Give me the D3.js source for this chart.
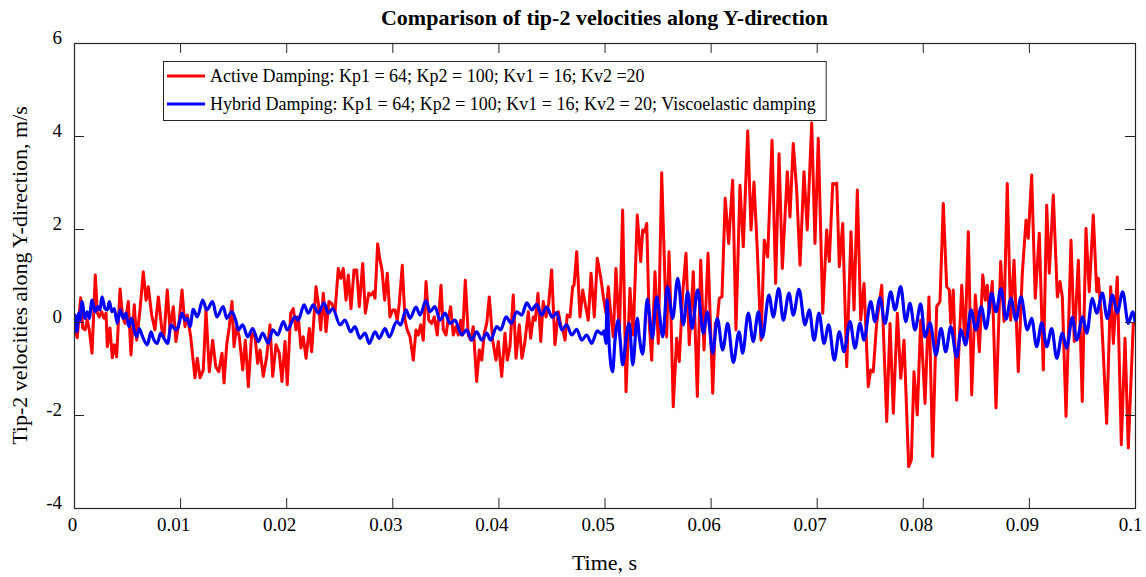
<!DOCTYPE html>
<html>
<head>
<meta charset="utf-8">
<script src="https://cdn.jsdelivr.net/npm/d3@7"></script>
<style>
  html, body { margin: 0; padding: 0; background: #ffffff; }
  svg { display: block; font-family: "Liberation Serif", "Times New Roman", serif; }
</style>
</head>
<body>
<svg id="chart" width="1146" height="577"></svg>
<script>
// Tip-2 velocity along Y, active vs hybrid damping. Samples: [time (ms), velocity (m/s)]
const activeDamping = [
  [0,0.04],[0.09,-0.17],[0.31,-0.34],[0.63,0.52],[0.82,-0.13],[1.04,-0.17],[1.25,0.04],[1.44,-0.17],[1.70,-0.67],[2.01,1.01],
  [2.20,0.19],[2.38,0.11],[2.61,0.22],[2.83,0.08],[3.02,0.19],[3.14,-0.53],[3.39,-0.13],[3.61,-0.77],[3.80,-0.49],[4.02,-0.75],
  [4.34,0.71],[4.59,0.11],[4.81,-0.03],[5.12,0.44],[5.37,-0.71],[5.68,0.37],[5.91,-0.39],[6.22,0.26],[6.53,1.08],[6.79,0.47],
  [7.00,0.76],[7.32,0.15],[7.63,-0.17],[7.95,0.54],[8.27,-0.14],[8.48,-0.32],[8.79,0.69],[9.05,-0.17],[9.36,0.33],[9.61,-0.42],
  [9.92,0.04],[10.18,0.69],[10.46,-0.10],[10.68,0.15],[11.00,-0.32],[11.40,-1.20],[11.62,-0.78],[11.88,-1.20],[12.19,-1.03],[12.44,0.26],
  [12.75,-1.07],[13.07,-0.39],[13.36,-0.96],[13.64,-1.07],[13.95,-0.67],[14.14,-1.31],[14.39,-0.49],[14.64,-0.10],[14.89,0.44],[15.08,-0.53],
  [15.33,-0.10],[15.58,-0.32],[15.90,-1.03],[16.15,-0.39],[16.43,-1.39],[16.75,-0.24],[17.06,-0.32],[17.31,-0.89],[17.53,-0.60],[17.84,-1.17],
  [18.16,-0.75],[18.47,-0.06],[18.73,-1.17],[19.04,-0.49],[19.35,-0.67],[19.60,-1.28],[19.89,-0.42],[20.10,-1.35],[20.42,0.19],[20.67,0.29],
  [20.92,-0.17],[21.14,0.11],[21.39,-0.56],[21.61,-0.32],[21.87,-0.78],[22.18,-0.14],[22.40,-0.64],[22.81,0.76],[23.03,0.40],[23.25,-0.17],
  [23.50,0.62],[23.75,-0.21],[24.03,0.44],[24.29,0.40],[24.60,0.22],[24.91,1.15],[25.14,0.94],[25.38,1.15],[25.64,0.47],[25.85,1.01],
  [26.11,0.29],[26.39,1.12],[26.64,1.12],[26.89,0.33],[27.21,1.26],[27.46,0.19],[27.78,0.62],[27.99,0.58],[28.21,0.65],[28.37,0.51],
  [28.62,1.68],[28.84,1.33],[29.03,1.12],[29.28,0.47],[29.53,1.05],[29.78,0.11],[30.04,0.26],[30.25,0.26],[30.47,0.04],[30.66,0.40],
  [30.94,1.22],[31.20,0.04],[31.41,-0.17],[31.67,-0.32],[31.98,-0.82],[32.23,-0.17],[32.45,-0.28],[32.68,-0.06],[32.92,-0.39],[33.18,0.87],
  [33.43,0.04],[33.71,-0.03],[33.96,0.11],[34.24,-0.28],[34.59,0.79],[34.81,-0.17],[35.06,-0.28],[35.28,0.08],[35.50,0.33],[35.75,-0.28],
  [36.00,-0.10],[36.22,-0.28],[36.45,0.04],[36.63,-0.28],[36.88,0.90],[37.16,-0.28],[37.39,-0.39],[37.63,-0.10],[37.95,-1.28],[38.20,-0.60],
  [38.43,-0.82],[38.67,-0.24],[38.90,-0.03],[39.14,0.54],[39.46,-0.39],[39.77,-0.82],[39.99,-0.42],[40.31,-1.17],[40.62,-0.24],[40.84,-0.82],
  [41.09,-0.53],[41.40,0.58],[41.66,-0.78],[41.97,-0.06],[42.22,-0.78],[42.48,-0.46],[42.82,0.22],[43.04,-0.35],[43.29,0.11],[43.48,0.04],
  [43.73,0.62],[43.99,-0.42],[44.23,0.44],[44.49,0.11],[44.74,0.40],[45.02,1.12],[45.33,-0.49],[45.65,0.22],[45.90,-0.10],[46.12,-0.21],
  [46.28,-0.39],[46.49,0.15],[46.75,0.11],[47.00,0.76],[47.13,0.79],[47.38,1.51],[47.69,0.11],[47.95,0.69],[48.26,0.29],[48.47,0.04],
  [48.73,1.05],[49.04,0.11],[49.32,1.37],[49.64,0.97],[49.89,0.54],[50.14,0.19],[50.36,0.76],[50.58,0.19],[50.83,-0.32],[51.08,1.15],
  [51.40,-0.28],[51.71,2.41],[52.03,-1.50],[52.40,0.72],[52.71,-0.28],[53.09,2.30],[53.41,1.30],[53.60,1.98],[53.79,1.94],[53.98,2.12],
  [54.22,-0.03],[54.45,-0.82],[54.76,1.08],[55.07,-0.46],[55.39,3.21],[55.61,1.55],[55.86,-0.32],[56.08,1.51],[56.27,0.11],[56.48,-1.82],
  [56.80,-0.35],[57.05,-0.85],[57.37,0.62],[57.68,1.48],[57.99,-0.49],[58.37,1.08],[58.75,-1.60],[59.07,1.33],[59.38,-0.60],[59.76,1.48],
  [60.20,-1.53],[60.44,-0.03],[60.63,0.04],[60.82,0.51],[61.07,0.54],[61.38,2.66],[61.70,1.69],[62.08,3.05],[62.39,-0.17],[62.77,2.94],
  [63.08,1.62],[63.50,4.11],[63.81,1.98],[64.09,3.01],[64.40,1.55],[64.75,-0.39],[65.06,1.76],[65.38,1.40],[65.79,3.91],[66.13,0.83],
  [66.45,3.62],[66.76,1.15],[67.23,3.23],[67.48,2.26],[67.79,3.84],[68.11,2.84],[68.43,1.22],[68.80,3.23],[69.11,1.98],[69.53,4.28],
  [69.84,1.69],[70.15,3.95],[70.57,0.19],[70.94,1.98],[71.19,1.30],[71.51,2.98],[71.70,2.96],[71.89,2.99],[72.13,1.19],[72.45,2.12],
  [72.83,-0.96],[73.23,1.94],[73.52,0.26],[73.83,2.84],[74.15,0.04],[74.46,0.83],[74.86,-1.39],[75.09,-1.03],[75.33,-1.07],[75.65,-0.03],
  [76.13,0.79],[76.60,-2.14],[76.91,-0.03],[77.22,-1.96],[77.60,0.19],[77.92,-1.21],[78.23,-0.39],[78.67,-3.11],[78.92,-2.96],[79.17,-1.07],
  [79.48,-2.00],[79.80,0.04],[80.21,-1.75],[80.58,0.54],[80.93,-2.89],[81.31,0.33],[81.62,0.44],[81.93,2.55],[82.25,0.76],[82.50,0.69],
  [82.63,-0.03],[82.87,0.69],[83.19,-1.68],[83.67,0.79],[83.98,-0.49],[84.29,1.94],[84.61,-1.57],[84.95,0.58],[85.33,-0.64],[85.65,1.01],
  [85.89,0.47],[86.08,0.79],[86.27,0.19],[86.55,0.87],[86.90,-1.85],[87.34,1.30],[87.65,0.01],[87.96,2.98],[88.28,0.04],[88.60,1.33],
  [89.00,-1.07],[89.38,1.05],[89.73,2.19],[89.94,1.80],[90.26,3.16],[90.60,0.51],[90.98,1.91],[91.36,-1.03],[91.68,2.51],[91.92,1.05],
  [92.30,2.73],[92.68,0.54],[92.93,0.87],[93.15,0.54],[93.50,-2.03],[93.97,1.76],[94.28,-0.42],[94.66,1.33],[95.03,-1.71],[95.38,2.01],
  [95.69,0.65],[96.07,2.30],[96.39,0.65],[96.54,0.94],[96.86,0.04],[97.33,-2.18],[97.71,0.76],[97.96,-0.46],[98.33,0.97],[98.71,-2.64],
  [99.06,-0.35],[99.37,-2.71],[99.84,-0.03],[100,-0.06]
];

const hybridDamping = [
  [0,0.04],[0.09,0.15],[0.25,-0.21],[0.44,0.19],[0.57,0.04],[0.75,0.44],[1.04,0.08],[1.25,0.22],[1.44,0.08],[1.70,0.47],
  [1.98,0.22],[2.23,0.33],[2.45,0.26],[2.64,0.54],[2.92,0.29],[3.14,0.26],[3.33,0.44],[3.58,0.22],[3.80,0.29],[4.08,-0.03],
  [4.34,0.26],[4.65,0.08],[4.90,0.19],[5.16,-0.10],[5.44,0.08],[5.66,-0.17],[5.91,-0.32],[6.15,-0.14],[6.47,-0.32],[6.91,-0.49],
  [7.26,-0.21],[7.47,-0.35],[7.85,-0.46],[8.17,-0.24],[8.48,-0.35],[8.83,-0.46],[9.14,-0.06],[9.61,-0.17],[9.83,-0.10],[10.18,0.19],
  [10.46,0.04],[10.68,0.08],[10.93,-0.10],[11.24,0.27],[11.62,0.11],[12.13,0.47],[12.51,0.26],[13.07,0.44],[13.45,0.11],[14.07,0.33],
  [14.39,0.08],[14.89,0.22],[15.27,0.01],[15.49,-0.17],[15.90,-0.06],[16.37,-0.32],[16.84,-0.14],[17.37,-0.42],[17.78,-0.24],[18.31,-0.46],
  [18.73,-0.17],[19.20,-0.28],[19.73,0.01],[20.10,-0.17],[20.83,0.11],[21.14,0.04],[21.68,0.37],[22.08,0.19],[22.55,0.37],[23.03,0.19],
  [23.56,0.41],[23.97,0.19],[24.38,0.29],[25.07,-0.06],[25.54,0.04],[26.08,-0.21],[26.48,-0.10],[26.96,-0.35],[27.43,-0.24],[27.83,-0.46],
  [28.37,-0.21],[28.77,-0.35],[29.31,-0.14],[29.72,-0.32],[30.41,0.01],[30.79,-0.06],[31.29,0.26],[31.67,0.08],[32.23,0.32],[32.61,0.15],
  [33.18,0.46],[33.55,0.22],[34.02,0.33],[34.50,0.04],[34.97,0.19],[35.44,-0.03],[35.91,0.04],[36.54,-0.28],[37.01,-0.17],[37.48,-0.39],
  [37.95,-0.21],[38.43,-0.39],[38.90,-0.24],[39.27,-0.39],[39.84,-0.10],[40.22,-0.17],[40.72,0.11],[41.22,-0.03],[41.72,0.22],[42.20,0.15],
  [42.67,0.41],[43.14,0.26],[43.61,0.38],[44.08,0.15],[44.55,0.32],[45.08,0.10],[45.49,0.20],[45.97,-0.17],[46.44,-0.06],[46.91,-0.28],
  [47.38,-0.16],[47.85,-0.39],[48.32,-0.28],[48.79,-0.46],[49.32,-0.19],[49.74,-0.26],[49.95,-0.19],[50.14,-0.46],[50.24,0.47],[50.45,-0.53],
  [50.77,-1.07],[50.99,-0.39],[51.30,0.04],[51.46,-0.34],[51.71,-0.92],[52.09,-0.24],[52.34,-0.03],[52.66,-0.92],[53.09,0.08],[53.28,-0.32],
  [53.60,-0.69],[54.03,0.49],[54.22,0.19],[54.51,-0.35],[54.92,0.54],[55.17,0.19],[55.49,-0.32],[55.92,0.76],[56.43,0.08],[56.90,0.94],
  [57.43,-0.06],[57.84,0.65],[58.25,-0.14],[58.78,0.69],[59.31,-0.24],[59.69,0.22],[60.20,-0.67],[60.63,0.08],[61.14,-0.60],[61.61,-0.03],
  [62.14,-0.87],[62.68,-0.21],[63.02,-0.67],[63.55,0.19],[64.02,-0.42],[64.50,0.22],[64.87,-0.34],[65.50,0.58],[65.91,0.11],[66.42,0.72],
  [66.85,0.04],[67.39,0.62],[67.79,0.15],[68.33,0.70],[68.90,-0.06],[69.30,0.26],[69.75,-0.39],[70.22,0.19],[70.69,-0.46],[71.13,-0.06],
  [71.66,-0.82],[72.13,-0.21],[72.57,-0.64],[73.14,0.01],[73.61,-0.56],[74.08,-0.03],[74.46,-0.39],[75.09,0.44],[75.49,0.01],[75.96,0.52],
  [76.44,-0.03],[76.97,0.65],[77.38,0.26],[77.92,0.76],[78.39,0.01],[78.79,0.40],[79.26,-0.17],[79.80,0.39],[80.21,-0.32],[80.68,-0.02],
  [81.24,-0.71],[81.72,-0.14],[82.16,-0.64],[82.63,-0.10],[83.19,-0.75],[83.60,-0.17],[84.04,-0.49],[84.54,0.26],[85.01,-0.17],[85.51,0.33],
  [85.96,-0.14],[86.49,0.62],[86.90,0.22],[87.37,0.72],[87.84,0.06],[88.31,0.51],[88.78,0.04],[89.26,0.54],[89.85,-0.17],[90.26,0.08],
  [90.73,-0.53],[91.21,-0.02],[91.68,-0.53],[92.15,-0.14],[92.62,-0.78],[93.15,-0.24],[93.56,-0.56],[94.09,0.10],[94.51,-0.39],[95.07,0.11],
  [95.45,-0.24],[95.98,0.51],[96.39,0.19],[96.92,0.62],[97.39,0.08],[97.86,0.58],[98.33,0.20],[98.84,0.65],[99.37,-0.03],[99.78,0.22],
  [100,0.01]
];

const xTicks = [0, 0.01, 0.02, 0.03, 0.04, 0.05, 0.06, 0.07, 0.08, 0.09, 0.1];
const xTickLabels = ["0", "0.01", "0.02", "0.03", "0.04", "0.05", "0.06", "0.07", "0.08", "0.09", "0.1"];
const yTicks = [-4, -2, 0, 2, 4, 6];
const yTickLabels = ["-4", "-2", "0", "2", "4", "6"];

const seriesNames = [
  "Active Damping: Kp1 = 64; Kp2 = 100; Kv1 = 16; Kv2 =20",
  "Hybrid Damping: Kp1 = 64; Kp2 = 100; Kv1 = 16; Kv2 = 20; Viscoelastic damping"
];
const seriesColors = ["#ff0000", "#0000ff"];

const titleText = "Comparison of tip-2 velocities along Y-direction";
const xLabelText = "Time, s";
const yLabelText = "Tip-2 velocities along Y-direction, m/s";

// ---- layout ----
const svg = d3.select("#chart");
const plot = { left: 74, top: 43, right: 1135, bottom: 508 };
const axisColor = "#262626";
const serif = "Liberation Serif, Times New Roman, serif";
const tickFont = 19, legendFont = 18, labelFont = 22, titleFont = 22;

const x = d3.scaleLinear().domain([0, 0.1]).range([plot.left, plot.right]);
const y = d3.scaleLinear().domain([-4, 6]).range([plot.bottom, plot.top]);

svg.append("defs").append("clipPath").attr("id", "plotClip")
  .append("rect")
  .attr("x", plot.left).attr("y", plot.top)
  .attr("width", plot.right - plot.left).attr("height", plot.bottom - plot.top);

// ---- series ----
const toPoints = s => s.map(d => [d[0] / 1000, d[1]]);

const lineSharp = d3.line()
  .x(d => x(d[0])).y(d => y(d[1]))
  .curve(d3.curveLinear);
const lineSmooth = d3.line()
  .x(d => x(d[0])).y(d => y(d[1]))
  .curve(d3.curveMonotoneX);

const lines = svg.append("g").attr("clip-path", "url(#plotClip)");
lines.append("path")
  .attr("d", lineSharp(toPoints(activeDamping)))
  .attr("fill", "none").attr("stroke", seriesColors[0])
  .attr("stroke-width", 3).attr("stroke-linejoin", "round").attr("stroke-linecap", "round");
lines.append("path")
  .attr("d", lineSmooth(toPoints(hybridDamping)))
  .attr("fill", "none").attr("stroke", seriesColors[1])
  .attr("stroke-width", 3.2).attr("stroke-linejoin", "round").attr("stroke-linecap", "round");

// ---- axes (ticks pointing inward on all four sides) ----
const tickLen = 10;

function styleAxis(g) {
  g.attr("font-family", serif).attr("font-size", tickFont);
  g.select(".domain").remove();
  g.selectAll(".tick line").attr("stroke", axisColor).attr("stroke-width", 1);
  g.selectAll(".tick text").attr("fill", "#000");
}

const bottomAxis = svg.append("g")
  .attr("transform", `translate(0,${plot.bottom})`)
  .call(d3.axisBottom(x).tickValues(xTicks)
    .tickFormat((d, i) => xTickLabels[i])
    .tickSizeInner(-tickLen).tickSizeOuter(0).tickPadding(10))
  .call(styleAxis);
// labels sit slightly left of their ticks
bottomAxis.selectAll(".tick text").each(function () {
  const w = this.getComputedTextLength();
  d3.select(this).attr("dx", -0.21 * w);
});

svg.append("g")
  .attr("transform", `translate(0,${plot.top})`)
  .call(d3.axisTop(x).tickValues(xTicks).tickFormat("")
    .tickSizeInner(-tickLen).tickSizeOuter(0))
  .call(styleAxis);

const leftAxis = svg.append("g")
  .attr("transform", `translate(${plot.left},0)`)
  .call(d3.axisLeft(y).tickValues(yTicks)
    .tickFormat((d, i) => yTickLabels[i])
    .tickSizeInner(-tickLen).tickSizeOuter(0).tickPadding(12))
  .call(styleAxis);
leftAxis.selectAll(".tick text").attr("dy", "0em");

svg.append("g")
  .attr("transform", `translate(${plot.right},0)`)
  .call(d3.axisRight(y).tickValues(yTicks).tickFormat("")
    .tickSizeInner(-tickLen).tickSizeOuter(0))
  .call(styleAxis);

// frame
svg.append("rect")
  .attr("x", plot.left + 0.5).attr("y", plot.top + 0.5)
  .attr("width", plot.right - plot.left).attr("height", plot.bottom - plot.top)
  .attr("fill", "none").attr("stroke", axisColor).attr("stroke-width", 1.2);

// ---- titles ----
const midX = (plot.left + plot.right) / 2;
svg.append("text")
  .attr("x", midX).attr("y", 25)
  .attr("text-anchor", "middle").attr("font-weight", "bold").attr("font-size", titleFont)
  .text(titleText);

svg.append("text")
  .attr("x", midX).attr("y", 570)
  .attr("text-anchor", "middle").attr("font-size", labelFont)
  .text(xLabelText);

svg.append("text")
  .attr("transform", `translate(27,${(plot.top + plot.bottom) / 2}) rotate(-90)`)
  .attr("text-anchor", "middle").attr("font-size", labelFont)
  .text(yLabelText);

// ---- legend ----
const legend = svg.append("g");
const legendX = 163, legendY = 61, rowGap = 28;
const entries = legend.selectAll("g.entry").data(seriesNames).enter()
  .append("g").attr("class", "entry")
  .attr("transform", (d, i) => `translate(${legendX},${legendY + 15 + i * rowGap})`);
entries.append("line")
  .attr("x1", 4).attr("x2", 42).attr("y1", 0).attr("y2", 0)
  .attr("stroke", (d, i) => seriesColors[i]).attr("stroke-width", 3);
const labels = entries.append("text")
  .attr("x", 47).attr("y", 6).attr("font-size", legendFont)
  .text(d => d);

let maxW = 0;
labels.each(function () { maxW = Math.max(maxW, this.getComputedTextLength()); });
legend.insert("rect", ":first-child")
  .attr("x", legendX + 0.5).attr("y", legendY + 0.5)
  .attr("width", 47 + maxW + 10).attr("height", 59)
  .attr("fill", "#ffffff").attr("stroke", axisColor).attr("stroke-width", 1);
</script>
</body>
</html>
